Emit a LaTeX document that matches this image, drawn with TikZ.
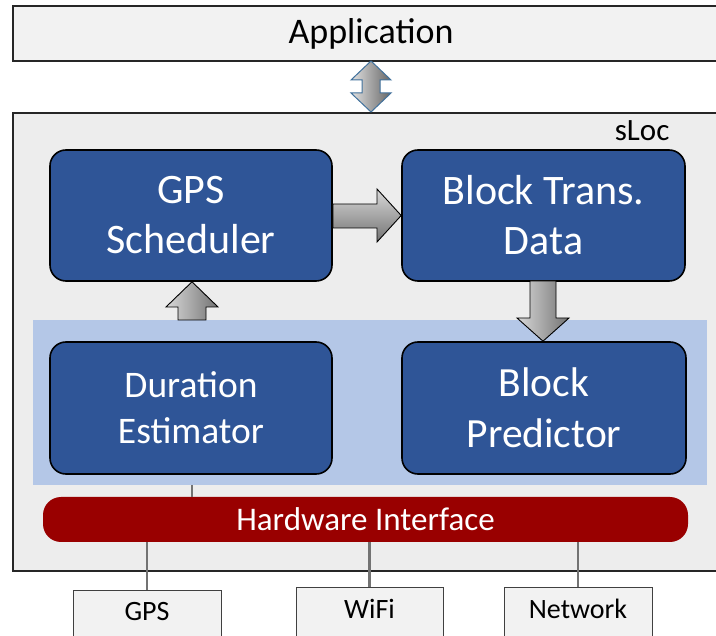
\documentclass[tikz,border=0pt]{standalone}
\usepackage{fontspec}
\setmainfont{Carlito}
\usetikzlibrary{shadings}
\definecolor{appfill}{HTML}{F2F2F2}
\definecolor{slocfill}{HTML}{EDEDED}
\definecolor{blockblue}{HTML}{2F5597}
\definecolor{panelblue}{HTML}{B4C7E7}
\definecolor{hwred}{HTML}{990000}
\definecolor{arrowblue}{HTML}{41719C}
\tikzset{
  framebox/.style={draw=black!85, line width=1.2pt, fill=appfill},
  blockbox/.style={draw=black, line width=1.6pt, fill=blockblue, rounded corners=16pt,
    text=white, align=center, inner sep=0pt},
  devbox/.style={draw=black!75, line width=1pt, fill=appfill, inner sep=0pt},
  devlabel/.style={font=\fontsize{28}{30}\selectfont},
  wire/.style={draw=black!55, line width=2.2pt},
  fatarrow/.style={draw=black, line width=0.9pt, top color=black!15, bottom color=black!55},
  fatarrowv/.style={draw=black, line width=0.9pt, left color=black!15, right color=black!55},
}
\begin{document}
\begin{tikzpicture}[x=1pt,y=-1pt]
\useasboundingbox (0,0) rectangle (716,636);
\clip (0,0) rectangle (716,636);
% Application
\draw[framebox] (13,6) rectangle (730,61);
\node[font=\fontsize{36}{40}\selectfont] (app) at (371,34) {Application};
% sLoc
\draw[framebox, fill=slocfill] (13,113) rectangle (730,571);
\node[font=\fontsize{31}{34}\selectfont, anchor=east] (sloc) at (673,131) {sLoc};
% double arrow
\draw[draw=arrowblue, line width=1pt, left color=black!12, right color=black!60]
  (371,61) -- (391,80) -- (380,80) -- (380,93) -- (391,93) -- (371,112)
  -- (351,93) -- (362,93) -- (362,80) -- (351,80) -- cycle;
% panel
\fill[panelblue] (33,320) rectangle (707,485);
% blocks
\node[blockbox, minimum width=282pt, minimum height=131pt,
  font=\fontsize{42}{50}\selectfont] (gps) at (191,215.5) {GPS\\Scheduler};
\node[blockbox, minimum width=283pt, minimum height=131pt,
  font=\fontsize{42}{50}\selectfont] (btd) at (543.5,215.5) {Block Trans.\\Data};
\node[blockbox, minimum width=282pt, minimum height=132pt,
  font=\fontsize{37.5}{46}\selectfont] (dur) at (191,408) {Duration\\Estimator};
\node[blockbox, minimum width=284pt, minimum height=132pt,
  font=\fontsize{41.5}{51}\selectfont] (bp) at (544,408) {Block\\Predictor};
% hardware interface
\node[fill=hwred, rounded corners=18pt, minimum width=645pt, minimum height=45pt,
  inner sep=0pt, text=white, font=\fontsize{33}{36}\selectfont] (hw) at (365.5,519.5) {Hardware Interface};
% fat arrows
\draw[fatarrow] (gps.east |- 0,204) -- (377,204) -- (377,189) -- (btd.west |- 0,215.5)
  -- (377,242) -- (377,228) -- (gps.east |- 0,228) -- cycle;
\draw[fatarrowv] (178,320) -- (178,307) -- (166,307) -- (gps.south -| 192,0)
  -- (218,307) -- (206,307) -- (206,320) -- cycle;
\draw[fatarrowv] (530,281) -- (530,318) -- (517,318) -- (bp.north -| 543,0)
  -- (569,318) -- (556,318) -- (556,281) -- cycle;
% tick between panel and hardware interface
\coordinate (tickt) at (192,485);
\draw[wire, line width=2pt] (tickt) -- (hw.north -| tickt);
% devices
\node[devbox, minimum width=148pt, minimum height=60pt, anchor=north] (dgps) at (147,590) {};
\node[devlabel] at (147,612) {GPS};
\node[devbox, minimum width=147pt, minimum height=60pt, anchor=north] (dwifi) at (369.5,587) {};
\node[devlabel] at (369.5,609) {WiFi};
\node[devbox, minimum width=148pt, minimum height=60pt, anchor=north] (dnet) at (578,587) {};
\node[devlabel] at (578,609) {Network};
% wires
\draw[wire] (hw.south -| dgps.north) -- (dgps.north);
\draw[wire] (hw.south -| dwifi.north) -- (dwifi.north);
\draw[wire] (hw.south -| dnet.north) -- (dnet.north);
\end{tikzpicture}
\end{document}
